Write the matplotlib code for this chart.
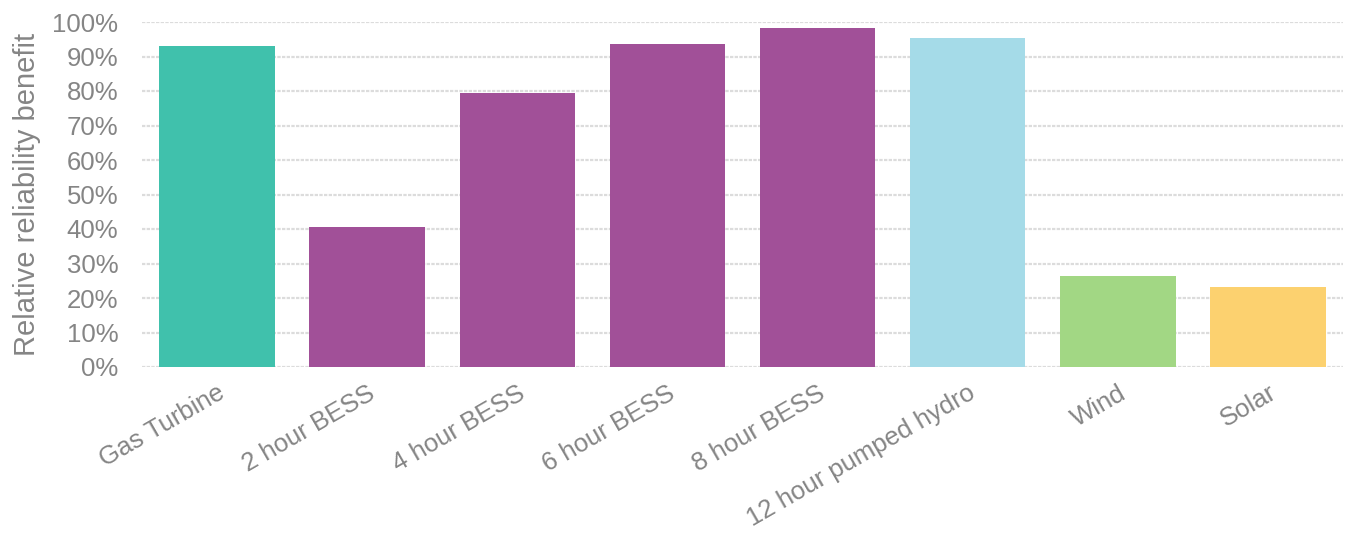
import numpy as np
import matplotlib.pyplot as plt
from matplotlib.ticker import PercentFormatter

categories = ['Gas Turbine', '2 hour BESS', '4 hour BESS', '6 hour BESS',
              '8 hour BESS', '12 hour pumped hydro', 'Wind', 'Solar']
values = [93.0, 40.5, 79.3, 93.5, 98.3, 95.5, 26.3, 23.1]
colors = ['#40C1AC', '#A15098', '#A15098', '#A15098', '#A15098',
          '#A5DBE8', '#A2D784', '#FCD16F']

plt.rcParams['font.family'] = ['Liberation Sans', 'DejaVu Sans']
text_col = '#858585'

fig = plt.figure(figsize=(13.51, 5.39), dpi=100)
ax = fig.add_axes([142/1351, 1-367/539, 1201/1351, 345/539])

x = np.arange(len(categories))
ax.bar(x, values, width=0.77, color=colors, zorder=3)

ax.set_xlim(-0.5, len(categories)-0.5)
ax.set_ylim(0, 100)
ax.set_yticks(np.arange(0, 101, 10))
ax.yaxis.set_major_formatter(PercentFormatter(decimals=0))
ax.grid(axis='y', color='#DCDCDC', linewidth=1.6, linestyle=(0, (1.5, 0.6)), zorder=0)
for s in ['top', 'right', 'left', 'bottom']:
    ax.spines[s].set_visible(False)
ax.tick_params(axis='y', length=0, labelsize=18.5, colors=text_col, pad=17)
ax.tick_params(axis='x', length=0, labelsize=18.5, colors=text_col, pad=10)
ax.set_xticks(x)
ax.set_xticklabels(categories, rotation=30, ha='right', rotation_mode='anchor')
ax.set_ylabel('Relative reliability benefit', fontsize=21, color=text_col, labelpad=8)

fig.savefig('out.png', dpi=100)
